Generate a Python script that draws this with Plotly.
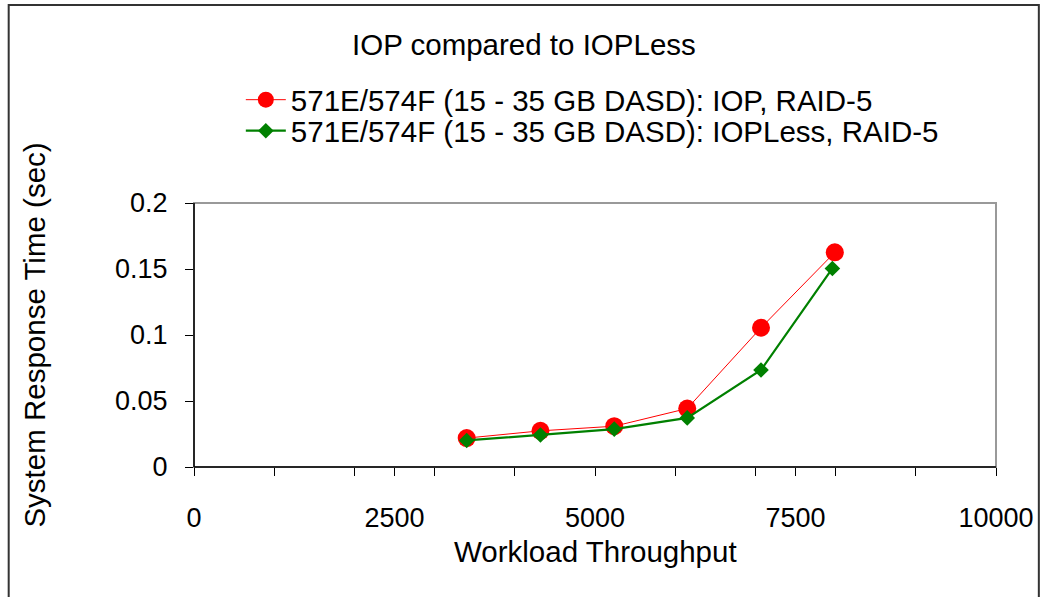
import plotly.graph_objects as go

throughput_iop = [3400, 4320, 5240, 6150, 7070, 7990]
resp_iop = [0.0219, 0.0274, 0.0309, 0.0443, 0.1055, 0.1626]
throughput_iopless = [3400, 4320, 5240, 6150, 7070, 7960]
resp_iopless = [0.0201, 0.0242, 0.0287, 0.0372, 0.0735, 0.1504]

name_iop = "571E/574F (15 - 35 GB DASD): IOP, RAID-5"
name_iopless = "571E/574F (15 - 35 GB DASD): IOPLess, RAID-5"
x_ticks = [0, 2500, 5000, 7500, 10000]
x_tick_text = ["0", "2500", "5000", "7500", "10000"]
y_ticks = [0, 0.05, 0.1, 0.15, 0.2]
y_tick_text = ["0", "0.05", "0.1", "0.15", "0.2"]

W, H = 1046, 597
L, R, T, B = 194, 999, 203, 467
FONT = "Liberation Sans, Arial, sans-serif"
FS_TICK = 27
FS_TEXT = 29.5

def px(x):
    return (x - L) / (R - L)

def py(y):
    return (B - y) / (B - T)

fig = go.Figure()
fig.add_trace(go.Scatter(
    x=throughput_iop, y=resp_iop, name=name_iop, mode="lines+markers",
    line=dict(color="#ff0000", width=1),
    marker=dict(symbol="circle", size=18, color="#ff0000"),
    legend="legend",
))
fig.add_trace(go.Scatter(
    x=throughput_iopless, y=resp_iopless, name=name_iopless, mode="lines+markers",
    line=dict(color="#008000", width=2.2),
    marker=dict(symbol="diamond", size=12, color="#008000"),
    legend="legend2",
))

shapes = [
    dict(type="rect", xref="paper", yref="paper", x0=px(8), x1=px(1042), y0=py(610), y1=py(5),
         line=dict(color="#333333", width=2), layer="below"),
    dict(type="rect", xref="paper", yref="paper", x0=0, x1=1, y0=0, y1=1,
         line=dict(color="#999999", width=2), layer="below"),
    dict(type="line", xref="paper", yref="paper", x0=0, x1=0, y0=0, y1=1,
         line=dict(color="#000000", width=1.5)),
    dict(type="line", xref="paper", yref="paper", x0=0, x1=1, y0=0, y1=0,
         line=dict(color="#000000", width=1.5)),
]

leg_common = dict(xanchor="left", yanchor="middle", font=dict(size=FS_TEXT),
                  bgcolor="rgba(0,0,0,0)", itemwidth=40)

fig.update_layout(
    width=W, height=H,
    margin=dict(l=L, r=W - R, t=T, b=H - B),
    paper_bgcolor="white", plot_bgcolor="white",
    font=dict(family=FONT, size=FS_TICK, color="black"),
    showlegend=True,
    legend=dict(x=px(241), y=py(100), **leg_common),
    legend2=dict(x=px(241), y=py(131), **leg_common),
    shapes=shapes,
    annotations=[
        dict(text="IOP compared to IOPLess", xref="paper", yref="paper",
             x=px(525), y=py(44), xanchor="center", yanchor="middle",
             showarrow=False, font=dict(size=FS_TEXT)),
        dict(text="Workload Throughput", xref="paper", yref="paper",
             x=px(597), y=py(551), xanchor="center", yanchor="middle",
             showarrow=False, font=dict(size=FS_TEXT)),
        dict(text="System Response Time (sec)", xref="paper", yref="paper",
             x=px(33), y=py(335), xanchor="center", yanchor="middle",
             textangle=-90, showarrow=False, font=dict(size=FS_TEXT)),
    ],
)
fig.update_xaxes(
    range=[0, 10000], tickvals=x_ticks, ticktext=x_tick_text, ticks="outside", ticklen=8,
    tickwidth=1, tickcolor="black", showgrid=False, zeroline=False, showline=False,
    ticklabelstandoff=19, tickfont=dict(size=FS_TICK),
    minor=dict(dtick=1000, ticks="outside", ticklen=8, tickcolor="black", showgrid=False),
)
fig.update_yaxes(
    range=[0, 0.2], tickvals=y_ticks, ticktext=y_tick_text, ticks="outside", ticklen=8,
    tickwidth=1, tickcolor="black", showgrid=False, zeroline=False, showline=False,
    ticklabelstandoff=12, tickfont=dict(size=FS_TICK),
)

fig.write_html("out.html", config={"displayModeBar": False},
               post_script="document.body.style.margin='0px';")
